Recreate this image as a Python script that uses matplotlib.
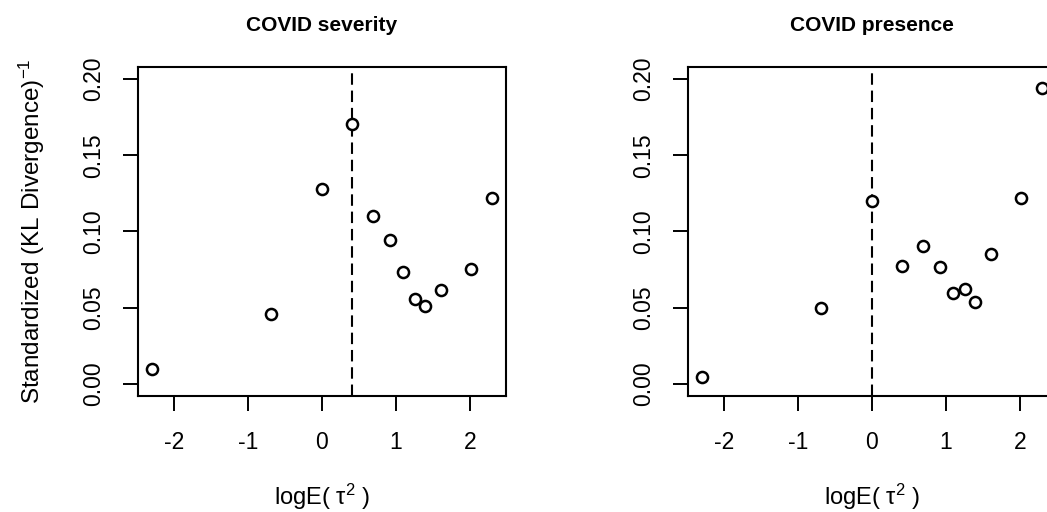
import matplotlib.pyplot as plt

plt.rcParams["font.family"] = ["Liberation Sans", "DejaVu Sans"]
plt.rcParams["mathtext.fontset"] = "custom"
plt.rcParams["mathtext.rm"] = "Liberation Sans"
plt.rcParams["mathtext.it"] = "Liberation Sans"
plt.rcParams["mathtext.default"] = "rm"
plt.rcParams["axes.unicode_minus"] = False

# log(tau^2) grid used for both outcomes
log_tau2 = [-2.303, -0.693, 0.0, 0.405, 0.693, 0.916, 1.099, 1.253, 1.386, 1.609, 2.015, 2.303]

# standardized inverse KL divergence per tau^2
severity_kl = [0.0094, 0.0458, 0.128, 0.1706, 0.1103, 0.0943, 0.0734, 0.0559, 0.0513, 0.0614, 0.0752, 0.1217]
presence_kl = [0.0044, 0.050, 0.1202, 0.0774, 0.0904, 0.0768, 0.0599, 0.0625, 0.0537, 0.0853, 0.1217, 0.1939]

# selected tau^2 (on log scale) for each outcome
severity_best = 0.405
presence_best = 0.0

panels = [
    ("COVID severity", severity_kl, severity_best, 138),
    ("COVID presence", presence_kl, presence_best, 688),
]

W, H = 1047, 512
fig = plt.figure(figsize=(W / 100, H / 100), dpi=100)

for i, (title, vals, best, left_px) in enumerate(panels):
    ax = fig.add_axes([left_px / W, (H - 396) / H, 368 / W, 329 / H])
    ax.plot(log_tau2, vals, linestyle="none", marker="o", markersize=8,
            markerfacecolor="white", markeredgecolor="black", markeredgewidth=1.8,
            clip_on=False, zorder=3)
    ax.axvline(best, color="black", linewidth=1.5, dashes=(5.5, 2.8), zorder=2)

    ax.set_xlim(-2.487, 2.487)
    ax.set_ylim(-0.008, 0.208)
    ax.set_xticks([-2, -1, 0, 1, 2])
    ax.set_yticks([0.0, 0.05, 0.10, 0.15, 0.20])
    ax.set_yticklabels(["0.00", "0.05", "0.10", "0.15", "0.20"], rotation=90, va="center")
    ax.tick_params(axis="both", direction="out", length=11, width=1.4, labelsize=16.5)
    ax.tick_params(axis="x", pad=14)
    ax.tick_params(axis="y", pad=13)
    for sp in ax.spines.values():
        sp.set_linewidth(1.5)

    ax.set_title(title, fontsize=15, fontweight="bold", pad=26)
    ax.set_xlabel(r"logE( $\tau^{2}$ )", fontsize=17, labelpad=20)
    if i == 0:
        ax.set_ylabel(r"Standardized (KL Divergence)$^{-1}$", fontsize=17.5, labelpad=25)

fig.savefig("out.png", dpi=100)
